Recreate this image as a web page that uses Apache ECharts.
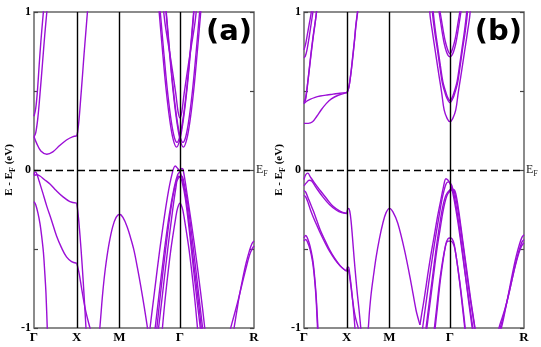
<!DOCTYPE html>
<html>
<head>
<meta charset="utf-8">
<script src="https://cdn.jsdelivr.net/npm/echarts@6/dist/echarts.min.js"></script>
<style>
  html, body { margin: 0; padding: 0; background: #fff; }
  #main { width: 541px; height: 347px; }
</style>
</head>
<body>
<div id="main"></div>
<script>
// k-path positions of the high-symmetry points and their labels
var kTicks = [0, 0.5, 1.0, 1.707, 2.573];
var kLabels = ['Γ', 'X', 'M', 'Γ', 'R'];
var eTicks = [-1, 0, 1];

// panel (a): bands, each one a list of [k, E]
var bandsA = [
    // Γ - X
    [[0,0.34],[0.02,0.39],[0.04,0.5],[0.06,0.66],[0.08,0.81],[0.1,0.94],[0.115,1.03]],
    [[0,0.21],[0.02,0.235],[0.045,0.33],[0.07,0.48],[0.1,0.68],[0.125,0.85],[0.15,1.0],[0.16,1.06]],
    [[0,0.21],[0.03,0.17],[0.08,0.12],[0.15,0.1],[0.22,0.115],[0.3,0.155],[0.38,0.19],[0.45,0.21],[0.5,0.215]],
    [[0,-0.035],[0.03,-0.03],[0.07,-0.038],[0.12,-0.06],[0.19,-0.09],[0.26,-0.13],[0.34,-0.17],[0.42,-0.2],[0.5,-0.21]],
    [[0,-0.03],[0.015,-0.012],[0.03,-0.02],[0.06,-0.07],[0.1,-0.14],[0.15,-0.23],[0.2,-0.31],[0.265,-0.42],[0.32,-0.49],[0.38,-0.55],[0.44,-0.58],[0.5,-0.59]],
    [[0,-0.2],[0.02,-0.22],[0.045,-0.27],[0.07,-0.34],[0.09,-0.42],[0.11,-0.52],[0.125,-0.64],[0.14,-0.78],[0.155,-1.0],[0.16,-1.08]],
    // X - M
    [[0.5,0.215],[0.51,0.24],[0.527,0.32],[0.546,0.45],[0.566,0.59],[0.585,0.73],[0.605,0.865],[0.625,1.0],[0.635,1.07]],
    [[0.5,-0.21],[0.51,-0.25],[0.525,-0.33],[0.55,-0.5],[0.575,-0.7],[0.595,-0.88],[0.608,-1.0],[0.614,-1.06]],
    [[0.5,-0.59],[0.51,-0.61],[0.53,-0.66],[0.56,-0.76],[0.6,-0.88],[0.64,-0.97],[0.665,-1.02]],
    [[0.765,-1.03],[0.77,-1.0],[0.785,-0.9],[0.8,-0.8],[0.82,-0.69],[0.845,-0.58],[0.88,-0.46],[0.92,-0.36],[0.96,-0.3],[1.0,-0.28],[1.04,-0.3],[1.09,-0.36],[1.13,-0.43],[1.17,-0.51],[1.21,-0.62],[1.25,-0.74],[1.29,-0.87],[1.327,-1.0],[1.335,-1.04]],
    // around Γ, conduction
    [[1.507,1.05],[1.517,1.0],[1.537,0.91],[1.599,0.7],[1.658,0.485],[1.685,0.37],[1.707,0.33],[1.729,0.37],[1.756,0.485],[1.815,0.7],[1.877,0.91],[1.897,1.0],[1.907,1.05]],
    [[1.457,1.05],[1.467,0.98],[1.507,0.73],[1.547,0.5],[1.587,0.32],[1.627,0.195],[1.667,0.145],[1.707,0.195],[1.747,0.32],[1.787,0.5],[1.827,0.73],[1.867,0.98],[1.877,1.05]],
    [[1.537,1.05],[1.547,0.98],[1.587,0.73],[1.627,0.5],[1.667,0.32],[1.707,0.195],[1.747,0.145],[1.787,0.195],[1.827,0.32],[1.867,0.5],[1.907,0.73],[1.947,0.98],[1.957,1.05]],
    [[1.472,1.03],[1.477,1.0],[1.517,0.75],[1.557,0.52],[1.597,0.34],[1.637,0.215],[1.672,0.175],[1.707,0.215],[1.747,0.34],[1.787,0.52],[1.827,0.75],[1.867,1.0],[1.872,1.03]],
    [[1.542,1.03],[1.547,1.0],[1.587,0.75],[1.627,0.52],[1.667,0.34],[1.707,0.215],[1.742,0.175],[1.777,0.215],[1.817,0.34],[1.857,0.52],[1.897,0.75],[1.937,1.0],[1.942,1.03]],
    // around Γ, valence
    [[1.352,-1.03],[1.357,-1.0],[1.407,-0.78],[1.482,-0.46],[1.561,-0.17],[1.617,-0.02],[1.652,0.025],[1.68,0.01],[1.707,-0.01],[1.74,-0.07],[1.78,-0.19],[1.82,-0.36],[1.87,-0.6],[1.92,-0.82],[1.957,-1.0],[1.97,-1.07]],
    [[1.41,-1.03],[1.417,-1.0],[1.46,-0.8],[1.52,-0.53],[1.58,-0.29],[1.64,-0.11],[1.68,-0.03],[1.707,-0.01],[1.73,0.01],[1.745,0.0],[1.795,-0.17],[1.873,-0.46],[1.95,-0.78],[1.997,-1.0],[2.01,-1.07]],
    [[1.45,-1.03],[1.457,-1.0],[1.5,-0.8],[1.56,-0.52],[1.62,-0.26],[1.66,-0.11],[1.687,-0.04],[1.707,-0.045],[1.73,-0.07],[1.77,-0.18],[1.82,-0.4],[1.88,-0.7],[1.945,-1.0],[1.952,-1.03]],
    [[1.43,-1.03],[1.437,-1.0],[1.48,-0.78],[1.54,-0.5],[1.6,-0.25],[1.65,-0.1],[1.69,-0.05],[1.727,-0.04],[1.75,-0.07],[1.8,-0.22],[1.86,-0.48],[1.92,-0.76],[1.972,-1.0],[1.98,-1.03]],
    [[1.497,-1.05],[1.502,-1.0],[1.541,-0.78],[1.599,-0.51],[1.658,-0.3],[1.68,-0.24],[1.707,-0.21],[1.734,-0.24],[1.756,-0.3],[1.815,-0.51],[1.873,-0.78],[1.912,-1.0],[1.917,-1.05]],
    // Γ - R
    [[2.573,-0.45],[2.55,-0.465],[2.52,-0.51],[2.48,-0.59],[2.44,-0.69],[2.4,-0.8],[2.37,-0.9],[2.34,-1.0],[2.335,-1.03]],
    [[2.573,-0.48],[2.55,-0.5],[2.52,-0.54],[2.48,-0.62],[2.43,-0.73],[2.38,-0.84],[2.32,-0.96],[2.28,-1.04]]
];

// panel (b)
var bandsB = [
    // Γ - X
    [[0,0.76],[0.02,0.8],[0.04,0.86],[0.06,0.92],[0.08,0.98],[0.09,1.02]],
    [[0,0.71],[0.015,0.72],[0.035,0.76],[0.06,0.84],[0.085,0.93],[0.11,1.02]],
    [[0,0.42],[0.02,0.45],[0.05,0.58],[0.08,0.72],[0.11,0.85],[0.135,0.95],[0.15,1.02]],
    [[0,0.43],[0.02,0.46],[0.05,0.585],[0.08,0.73],[0.11,0.86],[0.14,0.97],[0.152,1.03]],
    [[0,0.42],[0.03,0.435],[0.07,0.447],[0.13,0.46],[0.19,0.468],[0.27,0.475],[0.34,0.48],[0.42,0.486],[0.5,0.49]],
    [[0,0.295],[0.05,0.295],[0.1,0.305],[0.15,0.34],[0.2,0.38],[0.26,0.42],[0.32,0.45],[0.4,0.473],[0.5,0.49]],
    [[0,-0.06],[0.02,-0.03],[0.045,-0.02],[0.07,-0.04],[0.12,-0.08],[0.19,-0.13],[0.27,-0.185],[0.34,-0.23],[0.42,-0.26],[0.5,-0.275]],
    [[0,-0.1],[0.03,-0.08],[0.06,-0.065],[0.09,-0.07],[0.14,-0.11],[0.22,-0.17],[0.3,-0.22],[0.38,-0.255],[0.44,-0.27],[0.5,-0.275]],
    [[0,-0.13],[0.02,-0.14],[0.05,-0.18],[0.08,-0.22],[0.11,-0.26],[0.15,-0.32],[0.19,-0.38],[0.25,-0.45],[0.3,-0.505],[0.36,-0.56],[0.42,-0.605],[0.47,-0.63],[0.5,-0.64]],
    [[0,-0.16],[0.02,-0.17],[0.05,-0.21],[0.08,-0.26],[0.11,-0.3],[0.15,-0.35],[0.2,-0.41],[0.25,-0.465],[0.3,-0.515],[0.36,-0.565],[0.42,-0.605],[0.47,-0.63],[0.5,-0.64]],
    [[0,-0.43],[0.02,-0.415],[0.04,-0.43],[0.07,-0.48],[0.1,-0.56],[0.12,-0.65],[0.14,-0.78],[0.155,-0.92],[0.163,-1.0],[0.168,-1.05]],
    [[0,-0.45],[0.02,-0.44],[0.04,-0.455],[0.07,-0.5],[0.1,-0.58],[0.12,-0.67],[0.14,-0.8],[0.152,-0.93],[0.158,-1.0],[0.162,-1.05]],
    // X - M
    [[0.5,0.49],[0.51,0.5],[0.527,0.53],[0.55,0.62],[0.566,0.7],[0.59,0.82],[0.605,0.91],[0.625,1.0],[0.635,1.05]],
    [[0.5,0.485],[0.513,0.5],[0.53,0.54],[0.553,0.63],[0.57,0.71],[0.593,0.83],[0.608,0.915],[0.628,1.0],[0.638,1.05]],
    [[0.5,-0.275],[0.51,-0.25],[0.522,-0.243],[0.535,-0.26],[0.55,-0.32],[0.566,-0.42],[0.585,-0.55],[0.605,-0.675],[0.625,-0.79],[0.644,-0.886],[0.664,-1.0],[0.67,-1.04]],
    [[0.5,-0.64],[0.508,-0.615],[0.52,-0.615],[0.535,-0.66],[0.555,-0.75],[0.575,-0.86],[0.596,-1.0],[0.6,-1.03]],
    [[0.5,-0.64],[0.51,-0.63],[0.525,-0.645],[0.545,-0.72],[0.57,-0.83],[0.6,-0.93],[0.635,-1.0],[0.64,-1.02]],
    [[0.745,-1.02],[0.752,-1.0],[0.765,-0.9],[0.786,-0.78],[0.815,-0.66],[0.844,-0.55],[0.88,-0.44],[0.922,-0.337],[0.96,-0.27],[1.0,-0.243],[1.04,-0.265],[1.097,-0.337],[1.175,-0.506],[1.253,-0.717],[1.31,-0.886],[1.34,-0.95],[1.356,-0.98]],
    // around Γ, conduction
    [[1.567,1.05],[1.58,1.0],[1.6,0.93],[1.62,0.86],[1.64,0.8],[1.665,0.75],[1.685,0.725],[1.707,0.717],[1.729,0.725],[1.75,0.75],[1.775,0.8],[1.795,0.86],[1.815,0.93],[1.835,1.0],[1.847,1.05]],
    [[1.58,1.05],[1.592,1.0],[1.612,0.935],[1.632,0.87],[1.652,0.815],[1.675,0.77],[1.692,0.745],[1.707,0.735],[1.722,0.745],[1.739,0.77],[1.762,0.815],[1.782,0.87],[1.802,0.935],[1.822,1.0],[1.834,1.05]],
    [[1.497,1.05],[1.507,0.97],[1.53,0.87],[1.561,0.76],[1.59,0.65],[1.619,0.549],[1.66,0.47],[1.685,0.44],[1.707,0.426],[1.729,0.44],[1.754,0.47],[1.795,0.549],[1.824,0.65],[1.853,0.76],[1.884,0.87],[1.907,0.97],[1.917,1.05]],
    [[1.505,1.05],[1.515,0.98],[1.537,0.88],[1.566,0.77],[1.595,0.66],[1.624,0.56],[1.663,0.485],[1.687,0.452],[1.707,0.44],[1.727,0.452],[1.751,0.485],[1.79,0.56],[1.819,0.66],[1.848,0.77],[1.877,0.88],[1.899,0.98],[1.909,1.05]],
    [[1.466,1.05],[1.476,0.97],[1.5,0.88],[1.522,0.8],[1.55,0.7],[1.581,0.59],[1.61,0.49],[1.639,0.38],[1.675,0.325],[1.707,0.306],[1.739,0.325],[1.775,0.38],[1.804,0.49],[1.833,0.59],[1.864,0.7],[1.892,0.8],[1.914,0.88],[1.938,0.97],[1.948,1.05]],
    // around Γ, valence
    [[1.356,-0.98],[1.38,-0.9],[1.41,-0.8],[1.444,-0.675],[1.48,-0.55],[1.522,-0.42],[1.56,-0.3],[1.6,-0.19],[1.63,-0.11],[1.66,-0.055],[1.685,-0.065],[1.707,-0.085],[1.73,-0.12],[1.76,-0.2],[1.8,-0.33],[1.84,-0.48],[1.88,-0.64],[1.93,-0.83],[1.975,-1.0],[1.985,-1.04]],
    [[1.38,-1.03],[1.387,-1.0],[1.42,-0.87],[1.46,-0.71],[1.5,-0.56],[1.54,-0.42],[1.58,-0.29],[1.62,-0.17],[1.66,-0.09],[1.687,-0.075],[1.707,-0.08],[1.73,-0.1],[1.76,-0.17],[1.8,-0.3],[1.84,-0.46],[1.88,-0.63],[1.925,-0.83],[1.967,-1.0],[1.975,-1.04]],
    [[1.42,-1.03],[1.427,-1.0],[1.46,-0.86],[1.5,-0.69],[1.54,-0.52],[1.58,-0.37],[1.62,-0.24],[1.66,-0.16],[1.707,-0.125],[1.737,-0.12],[1.76,-0.14],[1.8,-0.25],[1.845,-0.42],[1.89,-0.6],[1.94,-0.8],[1.997,-1.0],[2.005,-1.04]],
    [[1.43,-1.03],[1.437,-1.0],[1.47,-0.86],[1.51,-0.69],[1.55,-0.52],[1.59,-0.38],[1.63,-0.25],[1.67,-0.165],[1.707,-0.135],[1.752,-0.125],[1.775,-0.15],[1.81,-0.26],[1.855,-0.44],[1.9,-0.62],[1.95,-0.82],[2.0,-1.0],[2.01,-1.04]],
    [[1.529,-1.03],[1.534,-1.0],[1.557,-0.886],[1.6,-0.675],[1.658,-0.47],[1.685,-0.435],[1.707,-0.43],[1.73,-0.435],[1.757,-0.47],[1.812,-0.675],[1.857,-0.886],[1.88,-1.0],[1.885,-1.03]],
    [[1.52,-1.03],[1.525,-1.0],[1.55,-0.88],[1.595,-0.67],[1.655,-0.48],[1.69,-0.45],[1.715,-0.45],[1.74,-0.46],[1.765,-0.5],[1.82,-0.7],[1.865,-0.9],[1.885,-1.0],[1.89,-1.03]],
    // Γ - R
    [[2.573,-0.41],[2.55,-0.425],[2.52,-0.47],[2.48,-0.55],[2.44,-0.65],[2.4,-0.76],[2.36,-0.87],[2.33,-0.95],[2.308,-1.0],[2.3,-1.03]],
    [[2.573,-0.44],[2.55,-0.455],[2.52,-0.5],[2.48,-0.58],[2.43,-0.7],[2.38,-0.82],[2.33,-0.93],[2.295,-1.0],[2.29,-1.02]],
    [[2.573,-0.46],[2.545,-0.48],[2.51,-0.53],[2.46,-0.63],[2.41,-0.75],[2.35,-0.88],[2.29,-0.98],[2.27,-1.02]]
];

var chartDom = document.getElementById('main');
var myChart = echarts.init(chartDom);

var purple = '#9b0fd6';
var serif = '"Liberation Serif", "DejaVu Serif", serif';

function makeX(grid) {
    return {
        type: 'value', gridIndex: grid, min: 0, max: 2.573,
        axisLine: { show: false },
        axisTick: { show: false },
        splitLine: { show: false },
        axisLabel: {
            customValues: kTicks,
            margin: 3,
            color: '#000',
            fontFamily: serif,
            fontWeight: 'bold',
            fontSize: 13,
            formatter: function (v) {
                var i = kTicks.indexOf(v);
                return i >= 0 ? kLabels[i] : '';
            }
        }
    };
}

function makeY(grid, right) {
    return {
        type: 'value', gridIndex: grid, min: -1, max: 1, interval: 1,
        position: right ? 'right' : 'left',
        axisLine: { show: false },
        axisTick: { show: true, inside: true, length: 4, lineStyle: { color: '#444', width: 1.2 } },
        minorTick: { show: true, splitNumber: 2, length: 4, lineStyle: { color: '#444', width: 1.2 } },
        splitLine: { show: false },
        axisLabel: {
            show: !right,
            margin: 3,
            color: '#000',
            fontFamily: serif,
            fontWeight: 'bold',
            fontSize: 12,
            customValues: eTicks
        },
        name: right ? '' : '{b|E - E}{s|F}{b| (eV)}',
        nameLocation: 'middle',
        nameGap: 15,
        nameTextStyle: {
            rich: {
                b: { fontFamily: serif, fontWeight: 'bold', fontSize: 11, color: '#000' },
                s: { fontFamily: serif, fontWeight: 'bold', fontSize: 8, color: '#000', padding: [7, 0, 0, 0] }
            }
        }
    };
}

// black lines at X, M, Γ and the dashed Fermi level
var marks = {
    silent: true,
    symbol: 'none',
    animation: false,
    label: { show: false },
    data: [
        { xAxis: 0.5, lineStyle: { color: '#000', width: 1.4, type: 'solid' } },
        { xAxis: 1.0, lineStyle: { color: '#000', width: 1.4, type: 'solid' } },
        { xAxis: 1.707, lineStyle: { color: '#000', width: 1.4, type: 'solid' } },
        {
            yAxis: 0,
            lineStyle: { color: '#000', width: 1.4, type: [7, 4] },
            label: {
                show: true, position: 'end', distance: 2,
                formatter: '{e|E}{f|F}',
                rich: {
                    e: { fontFamily: serif, fontSize: 12, color: '#222' },
                    f: { fontFamily: serif, fontSize: 8, color: '#222', padding: [8, 0, 0, 0] }
                }
            }
        }
    ]
};

var series = [];
function addBands(list, xi, yi) {
    for (var i = 0; i < list.length; i++) {
        var s = {
            type: 'line',
            xAxisIndex: xi,
            yAxisIndex: yi,
            data: list[i],
            smooth: 0.35,
            symbol: 'none',
            clip: true,
            silent: true,
            animation: false,
            lineStyle: { color: purple, width: 1.4 }
        };
        if (i === 0) s.markLine = marks;
        series.push(s);
    }
}
addBands(bandsA, 0, 0);
addBands(bandsB, 1, 2);

var option = {
    backgroundColor: '#fff',
    animation: false,
    grid: [
        { left: 34, top: 12, width: 220, height: 316, show: true, borderColor: '#666', borderWidth: 1.5, backgroundColor: 'transparent' },
        { left: 304, top: 12, width: 220, height: 316, show: true, borderColor: '#666', borderWidth: 1.5, backgroundColor: 'transparent' }
    ],
    xAxis: [makeX(0), makeX(1)],
    yAxis: [makeY(0, false), makeY(0, true), makeY(1, false), makeY(1, true)],
    graphic: [
        { type: 'text', z: 100, style: { x: 252, y: 32, text: '(a)', align: 'right', verticalAlign: 'middle', font: 'bold 29px "DejaVu Sans"', fill: '#000' } },
        { type: 'text', z: 100, style: { x: 522, y: 32, text: '(b)', align: 'right', verticalAlign: 'middle', font: 'bold 29px "DejaVu Sans"', fill: '#000' } }
    ],
    series: series
};

option && myChart.setOption(option);
</script>
</body>
</html>
